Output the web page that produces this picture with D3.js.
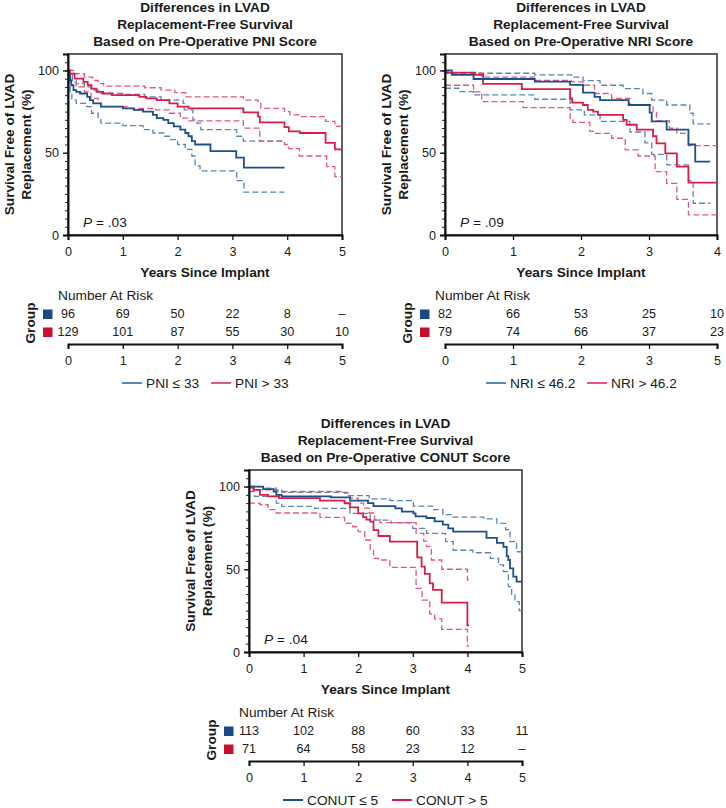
<!DOCTYPE html>
<html>
<head>
<meta charset="utf-8">
<script src="https://cdn.jsdelivr.net/npm/d3@7"></script>
<style>
  html, body { margin: 0; padding: 0; background: #fff; }
  svg { display: block; }
</style>
</head>
<body>
<svg id="chart" width="726" height="808"></svg>
<script>
// ---------------- DATA ----------------
// PNI panel: [years, survival %]
const pniLowKM = [[0,100],[0.02,97],[0.04,94],[0.06,91],[0.1,88],[0.15,87],[0.22,86],[0.35,84],[0.4,82],[0.46,80],[0.6,78],[1.0,77],[1.2,76],[1.37,75],[1.55,73],[1.62,71],[1.74,70],[1.83,68],[1.93,66],[2.05,64],[2.14,62],[2.2,60],[2.26,57],[2.32,55],[2.6,51],[3.07,47],[3.21,41],[3.95,41]];
const pniLowHi = [[0,100],[0.03,97],[0.08,94],[0.15,92],[0.3,90],[0.42,88],[0.6,86],[1.0,85.5],[1.4,84],[1.7,82],[2.1,80],[2.12,76],[2.28,70],[2.35,68],[2.42,64],[3.08,60],[3.2,57],[3.95,57]];
const pniLowLo = [[0,100],[0.02,92],[0.04,87],[0.07,82],[0.15,80],[0.34,78],[0.43,74],[0.55,70],[0.6,68],[1.0,66.5],[1.37,64],[1.55,62],[1.75,60],[1.85,58],[2.0,55],[2.14,52],[2.26,48],[2.32,42],[2.41,39],[3.08,33],[3.21,26],[3.95,26]];
const pniHighKM = [[0,100],[0.03,98],[0.12,95],[0.28,93],[0.36,91],[0.43,89],[0.52,87],[0.64,86],[0.8,85],[1.3,84],[1.43,83],[1.62,82],[1.85,80],[2.0,78],[2.2,77],[3.2,74.5],[3.47,72],[3.5,68.5],[3.95,65.5],[4.03,63],[4.23,62],[4.7,56],[4.87,52],[5.0,52]];
const pniHighHi = [[0,100],[0.1,98],[0.3,96],[0.45,94],[0.55,92],[0.65,90.5],[1.4,89.5],[1.7,88],[1.95,86.5],[2.15,84],[3.2,82],[3.47,80],[3.52,77],[3.95,75],[4.05,73],[4.23,72],[4.7,69],[4.87,66],[5.0,66]];
const pniHighLo = [[0,100],[0.04,93],[0.15,90],[0.3,87],[0.42,83],[0.55,80],[0.6,78],[1.1,77],[1.6,76],[1.85,74],[2.05,71],[2.2,69.3],[3.2,65],[3.5,57],[3.95,55],[4.03,52.5],[4.22,48],[4.72,41.5],[4.87,35.5],[5.0,35.5]];
const pniRiskLow  = ["96","69","50","22","8","\u2013"];
const pniRiskHigh = ["129","101","87","55","30","10"];
const pniTicks = ["0","1","2","3","4","5"];

// NRI panel
const nriLowKM = [[0,100],[0.1,97.3],[0.42,94.8],[1.32,93.2],[1.84,91.2],[2.03,86.5],[2.2,84],[2.28,82],[2.7,79],[3.01,74.4],[3.04,69],[3.26,64],[3.58,55],[3.68,44.6],[3.9,44.6]];
const nriLowHi = [[0,100],[0.02,98.3],[1.32,97.3],[1.86,95.9],[2.03,93.8],[2.28,91],[2.62,89],[2.91,86],[3.04,82],[3.26,79],[3.6,74],[3.65,67.5],[3.9,67.5]];
const nriLowLo = [[0,89.2],[0.2,87.1],[0.42,85.1],[1.32,82.5],[1.84,76],[2.05,73],[2.28,69],[2.72,62.6],[2.94,56],[3.04,49],[3.26,42.6],[3.58,33],[3.65,19.3],[3.9,19.3]];
const nriHighKM = [[0,98.7],[0.44,97.3],[0.56,91.8],[1.13,88.6],[1.84,83],[1.87,80.4],[2.03,79],[2.1,76],[2.18,75],[2.25,73],[2.62,70],[2.67,67],[2.82,64],[3.06,60],[3.11,55.7],[3.24,49.6],[3.41,41.5],[3.58,31.8],[4.0,31.8]];
const nriHighHi = [[0,99.5],[0.05,98.5],[0.54,96],[1.32,94],[1.86,93],[2.03,91],[2.2,86],[2.45,83],[2.72,79],[3.06,75],[3.11,69.4],[3.3,65],[3.41,61.8],[3.58,54.3],[4.0,54.3]];
const nriHighLo = [[0,91],[0.42,87],[0.54,81],[1.15,77.4],[1.84,70],[1.88,68.5],[2.13,63],[2.2,61.8],[2.45,58.8],[2.65,51.7],[2.84,48],[3.09,38.5],[3.26,31.4],[3.41,21.7],[3.58,12.2],[4.0,12.2]];
const nriRiskLow  = ["82","66","53","25","10"];
const nriRiskHigh = ["79","74","66","37","23"];
const nriTicks = ["0","1","2","3","5"];

// CONUT panel
const conutLowKM = [[0,100],[0.26,98.5],[0.45,97],[0.5,95],[0.6,94],[1.5,93.4],[1.85,91.5],[2.18,90],[2.28,88.2],[2.68,86.8],[2.8,84.8],[3.01,83.8],[3.05,82],[3.25,81],[3.4,79],[3.55,77],[3.65,74.7],[3.74,72.7],[4.35,69],[4.54,66],[4.66,63.5],[4.72,58],[4.75,55.6],[4.78,50.6],[4.84,45.5],[4.9,42.5],[5.0,42.5]];
const conutLowHi = [[0,100],[0.3,99],[0.5,98],[0.6,96.5],[1.79,94.5],[2.2,92.5],[2.58,91.5],[3.01,88.2],[3.38,86],[3.55,83],[3.74,81.5],[4.3,80.5],[4.54,77.8],[4.7,74],[4.78,66.7],[4.9,60.6],[5.0,60.6]];
const conutLowLo = [[0,97],[0.1,94],[0.5,90],[0.6,88],[1.2,86.8],[1.85,83.8],[2.22,79.7],[2.6,78],[3.0,74.7],[3.25,71.7],[3.6,66.7],[3.74,61.5],[4.1,60],[4.42,56.6],[4.57,52.6],[4.66,48.6],[4.75,39.5],[4.81,34.5],[4.87,30.4],[4.95,25],[5.0,25]];
const conutHighKM = [[0,100],[0.08,98],[0.2,95],[0.35,94],[0.55,93],[1.3,91.5],[1.75,89.9],[1.85,87.4],[2.0,83.8],[2.09,81.5],[2.15,80],[2.22,78.8],[2.28,73.7],[2.37,70.1],[2.58,66.7],[3.08,57.2],[3.16,51.6],[3.22,47.2],[3.31,41.5],[3.37,37.5],[3.53,29.8],[4.0,16.1],[4.03,16.1]];
const conutHighHi = [[0,99],[0.1,98],[0.5,97],[1.75,96],[1.85,93],[2.0,90],[2.1,87],[2.2,84],[2.3,80],[2.4,78.2],[3.06,71.7],[3.2,67],[3.25,63.7],[3.34,55.6],[3.53,50],[4.0,43.6],[4.03,43.6]];
const conutHighLo = [[0,90],[0.2,89],[0.35,86],[0.5,84],[1.3,81.4],[1.75,77.7],[1.9,75.7],[2.0,72.7],[2.12,67.7],[2.22,62],[2.28,56.6],[2.37,55.6],[2.58,51.2],[3.06,38.5],[3.17,31.4],[3.31,23],[3.4,20],[3.53,13.7],[4.0,3.6],[4.03,3.6]];
const conutRiskLow  = ["113","102","88","60","33","11"];
const conutRiskHigh = ["71","64","58","23","12","\u2013"];
const conutTicks = ["0","1","2","3","4","5"];

const titles = {
  pni:   ["Differences in LVAD","Replacement-Free Survival","Based on Pre-Operative PNI Score"],
  nri:   ["Differences in LVAD","Replacement-Free Survival","Based on Pre-Operative NRI Score"],
  conut: ["Differences in LVAD","Replacement-Free Survival","Based on Pre-Operative CONUT Score"]
};
const pValues = { pni: ".03", nri: ".09", conut: ".04" };
const legendLabels = {
  pni:   ["PNI \u2264 33", "PNI > 33"],
  nri:   ["NRI \u2264 46.2", "NRI > 46.2"],
  conut: ["CONUT \u2264 5", "CONUT > 5"]
};
const yLabel = ["Survival Free of LVAD", "Replacement (%)"];
const xLabel = "Years Since Implant";

// ---------------- STYLE / LAYOUT ----------------
const FONT = "'Liberation Sans', Arial, Helvetica, sans-serif";
const FS_B = 13.7, FS_T = 12.6;
const C = {
  blue: "#1d4f8a", red: "#d81e48",
  blueCI: "#5a85b8", redCI: "#e3587c",
  sqBlue: "#1a4a85", sqRed: "#c8102e"
};

const panels = [
  { key: "pni", left: 68, right: 342, top: 54, bottom: 235, xmax: 5,
    low: [pniLowKM, pniLowHi, pniLowLo], high: [pniHighKM, pniHighHi, pniHighLo],
    riskLow: pniRiskLow, riskHigh: pniRiskHigh, riskTicks: pniTicks,
    legBlue: 54, legRed: 143, legColors: [C.blueCI, C.redCI] },
  { key: "nri", left: 445, right: 717, top: 54, bottom: 235, xmax: 4,
    low: [nriLowKM, nriLowHi, nriLowLo], high: [nriHighKM, nriHighHi, nriHighLo],
    riskLow: nriRiskLow, riskHigh: nriRiskHigh, riskTicks: nriTicks,
    legBlue: 41, legRed: 142, legColors: [C.blueCI, C.redCI] },
  { key: "conut", left: 249, right: 522, top: 470, bottom: 652, xmax: 5,
    low: [conutLowKM, conutLowHi, conutLowLo], high: [conutHighKM, conutHighHi, conutHighLo],
    riskLow: conutRiskLow, riskHigh: conutRiskHigh, riskTicks: conutTicks,
    legBlue: 34, legRed: 143, legColors: [C.blue, C.red] }
];

const svg = d3.select("#chart");
svg.append("rect").attr("width", 726).attr("height", 808).attr("fill", "#fff");

panels.forEach(p => {
  const g = svg.append("g");
  const x = d3.scaleLinear().domain([0, p.xmax]).range([p.left, p.right]);
  const y = d3.scaleLinear().domain([0, 110]).range([p.bottom, p.top]);
  const cx = (p.left + p.right) / 2;

  // Title
  titles[p.key].forEach((t, i) => {
    g.append("text").attr("x", cx).attr("y", p.top - 47 + i * 17)
      .attr("text-anchor", "middle").attr("dominant-baseline", "central")
      .attr("font-family", FONT).attr("font-weight", "bold").attr("font-size", FS_B)
      .attr("fill", "#1a1a1a").text(t);
  });

  // frame
  g.append("rect").attr("x", p.left).attr("y", p.top)
    .attr("width", p.right - p.left).attr("height", p.bottom - p.top)
    .attr("fill", "none").attr("stroke", "#3a3a3a").attr("stroke-width", 1.6);

  // curves
  const line = d3.line().x(d => x(d[0])).y(d => y(d[1])).curve(d3.curveStepAfter);
  const curves = g.append("g");
  [[p.low[1], C.blueCI], [p.low[2], C.blueCI], [p.high[1], C.redCI], [p.high[2], C.redCI]].forEach(([d, col]) => {
    curves.append("path").attr("d", line(d)).attr("fill", "none")
      .attr("stroke", col).attr("stroke-width", 1.3).attr("stroke-dasharray", "6,3");
  });
  curves.append("path").attr("d", line(p.high[0])).attr("fill", "none")
    .attr("stroke", C.red).attr("stroke-width", 1.8);
  curves.append("path").attr("d", line(p.low[0])).attr("fill", "none")
    .attr("stroke", C.blue).attr("stroke-width", 1.8);

  // Y axis: minor + major
  const yMinor = d3.axisLeft(y).tickValues(d3.range(0, 110, 5)).tickSize(3).tickFormat("");
  const ym = g.append("g").attr("transform", `translate(${p.left},0)`).call(yMinor);
  ym.select(".domain").remove();
  ym.selectAll("line").attr("stroke", "#222").attr("stroke-width", 1);
  const yMajor = d3.axisLeft(y).tickValues([0, 50, 100]).tickSize(5).tickPadding(4);
  const yg = g.append("g").attr("transform", `translate(${p.left},0)`).call(yMajor);
  yg.select(".domain").attr("stroke", "#111").attr("stroke-width", 2);
  yg.selectAll("line").attr("stroke", "#111").attr("stroke-width", 1.3);
  yg.selectAll("text").attr("font-family", FONT).attr("font-size", FS_T).attr("fill", "#1a1a1a");

  // X axis
  const xAxis = d3.axisBottom(x).tickValues(d3.range(0, p.xmax + 1)).tickSize(5).tickPadding(7).tickFormat(d3.format("d"));
  const xg = g.append("g").attr("transform", `translate(0,${p.bottom})`).call(xAxis);
  xg.select(".domain").attr("stroke", "#111").attr("stroke-width", 2);
  xg.selectAll("line").attr("stroke", "#111").attr("stroke-width", 1.3);
  xg.selectAll("text").attr("font-family", FONT).attr("font-size", FS_T).attr("fill", "#1a1a1a");

  // axis labels
  g.append("text").attr("x", cx).attr("y", p.bottom + 37)
    .attr("text-anchor", "middle").attr("dominant-baseline", "central")
    .attr("font-family", FONT).attr("font-weight", "bold").attr("font-size", FS_B)
    .attr("fill", "#1a1a1a").text(xLabel);
  const cy = (p.top + p.bottom) / 2;
  yLabel.forEach((t, i) => {
    const lx = p.left - 59 + i * 17;
    g.append("text").attr("transform", `translate(${lx},${cy}) rotate(-90)`)
      .attr("text-anchor", "middle").attr("dominant-baseline", "central")
      .attr("font-family", FONT).attr("font-weight", "bold").attr("font-size", FS_B)
      .attr("fill", "#1a1a1a").text(t);
  });

  // P value
  const pt = g.append("text").attr("x", p.left + 15).attr("y", p.bottom - 13)
    .attr("dominant-baseline", "central").attr("font-family", FONT)
    .attr("font-size", FS_B).attr("fill", "#1a1a1a");
  pt.append("tspan").attr("font-style", "italic").text("P");
  pt.append("tspan").text(" = " + pValues[p.key]);

  // Risk table
  const rx = d3.scaleLinear().domain([0, p.riskTicks.length - 1]).range([p.left, p.right]);
  g.append("text").attr("x", p.left - 10).attr("y", p.bottom + 60)
    .attr("dominant-baseline", "central").attr("font-family", FONT)
    .attr("font-size", FS_B).attr("fill", "#1a1a1a").text("Number At Risk");
  [[p.riskLow, C.sqBlue, 79], [p.riskHigh, C.sqRed, 97]].forEach(([row, col, dy]) => {
    g.append("rect").attr("x", p.left - 25).attr("y", p.bottom + dy - 4.5)
      .attr("width", 9.5).attr("height", 9.5).attr("fill", col);
    row.forEach((v, i) => {
      g.append("text").attr("x", rx(i)).attr("y", p.bottom + dy)
        .attr("text-anchor", "middle").attr("dominant-baseline", "central")
        .attr("font-family", FONT).attr("font-size", FS_T).attr("fill", "#1a1a1a").text(v);
    });
  });
  g.append("text").attr("transform", `translate(${p.left - 38},${p.bottom + 88}) rotate(-90)`)
    .attr("text-anchor", "middle").attr("dominant-baseline", "central")
    .attr("font-family", FONT).attr("font-weight", "bold").attr("font-size", FS_B)
    .attr("fill", "#1a1a1a").text("Group");
  const rAxis = d3.axisBottom(rx).tickValues(d3.range(0, p.riskTicks.length))
    .tickFormat((d, i) => p.riskTicks[i]).tickSize(5).tickPadding(7);
  const rg = g.append("g").attr("transform", `translate(0,${p.bottom + 109})`).call(rAxis);
  rg.select(".domain").attr("stroke", "#111").attr("stroke-width", 2);
  rg.selectAll("line").attr("stroke", "#111").attr("stroke-width", 1.3);
  rg.selectAll("text").attr("font-family", FONT).attr("font-size", FS_T).attr("fill", "#1a1a1a");

  // Legend
  const ly = p.bottom + 148;
  [[p.legBlue, p.legColors[0], legendLabels[p.key][0]], [p.legRed, p.legColors[1], legendLabels[p.key][1]]].forEach(([off, col, lab]) => {
    g.append("line").attr("x1", p.left + off).attr("x2", p.left + off + 20)
      .attr("y1", ly).attr("y2", ly).attr("stroke", col).attr("stroke-width", 2);
    g.append("text").attr("x", p.left + off + 24).attr("y", ly)
      .attr("dominant-baseline", "central").attr("font-family", FONT)
      .attr("font-size", FS_B).attr("fill", "#1a1a1a").text(lab);
  });
});
</script>
</body>
</html>
